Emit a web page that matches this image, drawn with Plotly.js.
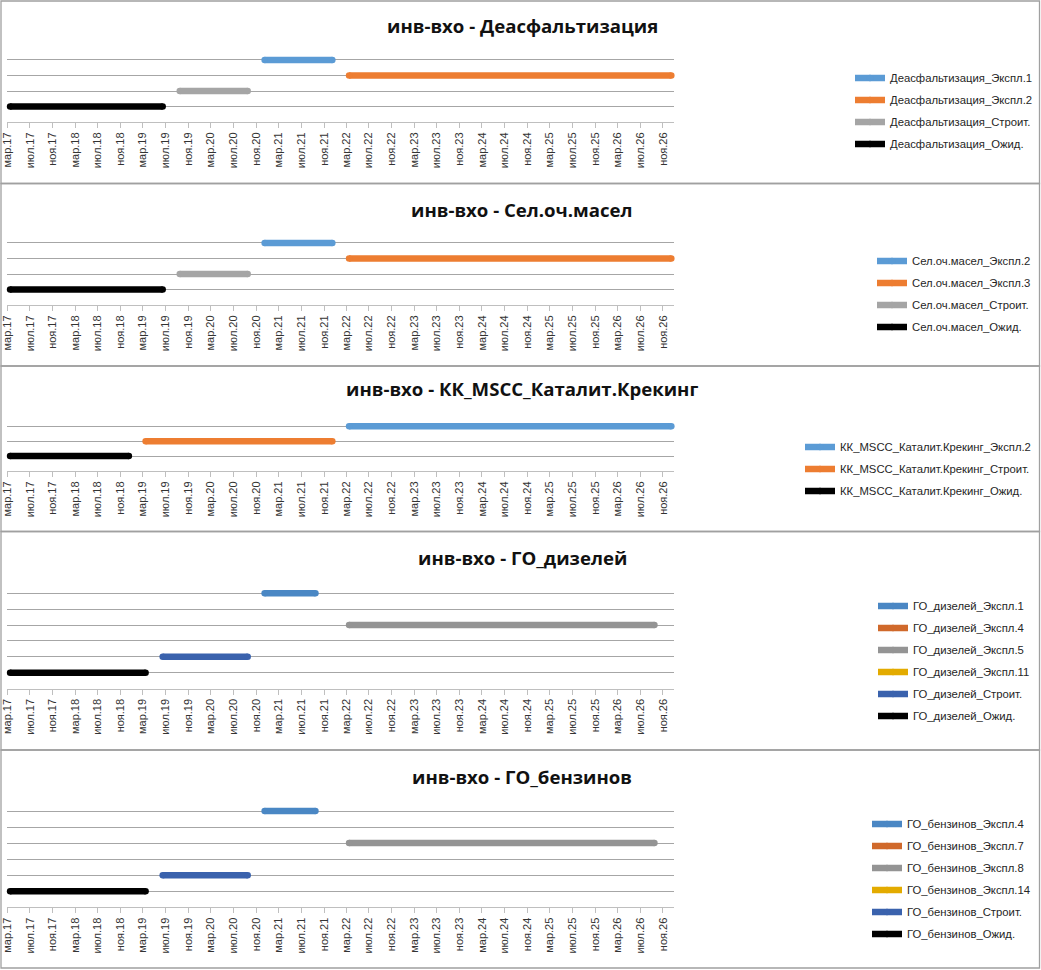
<!DOCTYPE html>
<html>
<head>
<meta charset="utf-8">
<script src="https://cdn.plot.ly/plotly-3.0.1.min.js"></script>
<style>html,body{margin:0;padding:0;background:#fff;}#chart{width:1041px;height:970px;}</style>
</head>
<body>
<div id="chart"></div>
<script>
// ---------- DATA ----------
const tickLabels = ["мар.17","июл.17","ноя.17","мар.18","июл.18","ноя.18","мар.19","июл.19","ноя.19",
  "мар.20","июл.20","ноя.20","мар.21","июл.21","ноя.21","мар.22","июл.22","ноя.22","мар.23","июл.23",
  "ноя.23","мар.24","июл.24","ноя.24","мар.25","июл.25","ноя.25","мар.26","июл.26","ноя.26"];

const panelTitles = ["инв-вхо - Деасфальтизация","инв-вхо - Сел.оч.масел",
  "инв-вхо - КК_MSCC_Каталит.Крекинг","инв-вхо - ГО_дизелей","инв-вхо - ГО_бензинов"];

// Panel 1
const p1Names  = ["Деасфальтизация_Экспл.1","Деасфальтизация_Экспл.2","Деасфальтизация_Строит.","Деасфальтизация_Ожид."];
const p1Levels = [4,3,2,1];
const p1Start  = ["2020-12","2022-03","2019-09","2017-03"];
const p1End    = ["2021-12","2026-12","2020-09","2019-06"];
// Panel 2
const p2Names  = ["Сел.оч.масел_Экспл.2","Сел.оч.масел_Экспл.3","Сел.оч.масел_Строит.","Сел.оч.масел_Ожид."];
const p2Levels = [4,3,2,1];
const p2Start  = ["2020-12","2022-03","2019-09","2017-03"];
const p2End    = ["2021-12","2026-12","2020-09","2019-06"];
// Panel 3
const p3Names  = ["КК_MSCC_Каталит.Крекинг_Экспл.2","КК_MSCC_Каталит.Крекинг_Строит.","КК_MSCC_Каталит.Крекинг_Ожид."];
const p3Levels = [3,2,1];
const p3Start  = ["2022-03","2019-03","2017-03"];
const p3End    = ["2026-12","2021-12","2018-12"];
// Panel 4
const p4Names  = ["ГО_дизелей_Экспл.1","ГО_дизелей_Экспл.4","ГО_дизелей_Экспл.5","ГО_дизелей_Экспл.11","ГО_дизелей_Строит.","ГО_дизелей_Ожид."];
const p4Levels = [6,5,4,3,2,1];
const p4Start  = ["2020-12",null,"2022-03",null,"2019-06","2017-03"];
const p4End    = ["2021-09",null,"2026-09",null,"2020-09","2019-03"];
// Panel 5
const p5Names  = ["ГО_бензинов_Экспл.4","ГО_бензинов_Экспл.7","ГО_бензинов_Экспл.8","ГО_бензинов_Экспл.14","ГО_бензинов_Строит.","ГО_бензинов_Ожид."];
const p5Levels = [6,5,4,3,2,1];
const p5Start  = ["2020-12",null,"2022-03",null,"2019-06","2017-03"];
const p5End    = ["2021-09",null,"2026-09",null,"2020-09","2019-03"];

// ---------- STYLE ----------
const colorsA = ["#5B9BD5","#ED7D31","#A5A5A5","#000000"];
const colorsB = ["#5B9BD5","#ED7D31","#000000"];
const colorsC = ["#4A87C4","#D0692B","#949494","#E3AB00","#3A62AD","#000000"];

const W = 1041, H = 970;
const px = v => v / W;
const py = v => 1 - v / H;
const PAD = 0.35; // extra room above the top level so thick lines are not clipped

const panels = [
  {names:p1Names, levels:p1Levels, start:p1Start, end:p1End, colors:colorsA, top:60,    bottom:122,   nmax:4, titleY:25.5, legX:850, legY:111, box:[1,183.5]},
  {names:p2Names, levels:p2Levels, start:p2Start, end:p2End, colors:colorsA, top:243,   bottom:305,   nmax:4, titleY:209.5,legX:872, legY:294, box:[183.5,366]},
  {names:p3Names, levels:p3Levels, start:p3Start, end:p3End, colors:colorsB, top:426.3, bottom:471,   nmax:3, titleY:388.5,legX:800, legY:469, box:[366,531.5]},
  {names:p4Names, levels:p4Levels, start:p4Start, end:p4End, colors:colorsC, top:593.3, bottom:688.5, nmax:6, titleY:557.5,legX:873, legY:661, box:[531.5,750]},
  {names:p5Names, levels:p5Levels, start:p5Start, end:p5End, colors:colorsC, top:811,   bottom:907.3, nmax:6, titleY:776,  legX:867, legY:879, box:[750,968]}
];

const monthNum = {"мар":"03","июл":"07","ноя":"11"};
const tickVals = tickLabels.map(t => "20" + t.split(".")[1] + "-" + monthNum[t.split(".")[0]] + "-01");
const mid = m => m === null ? null : m + "-16";

const data = [];
const layout = {
  width: W, height: H,
  margin: {l:0, r:0, t:0, b:0},
  paper_bgcolor: "#fff", plot_bgcolor: "rgba(0,0,0,0)",
  showlegend: true,
  annotations: [], shapes: []
};

panels.forEach((p, i) => {
  const n = i + 1;
  const xs = n === 1 ? "x" : "x" + n;
  const ys = n === 1 ? "y" : "y" + n;
  const legName = n === 1 ? "legend" : "legend" + n;
  const step = (p.bottom - p.top) / p.nmax;
  p.names.forEach((name, k) => {
    data.push({
      type: "scatter", mode: "lines+markers",
      name: name,
      x: [mid(p.start[k]), mid(p.end[k])],
      y: p.start[k] === null ? [null, null] : [p.levels[k], p.levels[k]],
      xaxis: xs, yaxis: ys,
      legend: legName,
      legendgroup: "g" + n + "_" + k,
      line: {color: p.colors[k], width: 6.5},
      marker: {color: p.colors[k], size: 6.5, line: {width: 0}},
      cliponaxis: false,
      hoverinfo: "skip"
    });
  });
  layout["xaxis" + (n === 1 ? "" : n)] = {
    domain: [px(7.3), px(674.3)],
    anchor: ys,
    type: "date",
    range: ["2017-03-01", "2027-01-01"],
    tickmode: "array", tickvals: tickVals, ticktext: tickLabels,
    tickangle: -90,
    ticks: "outside", ticklen: 5, tickcolor: "#bfbfbf", tickwidth: 1,
    showline: true, linecolor: "#bfbfbf", linewidth: 1,
    showgrid: false, zeroline: false,
    tickfont: {family: "Liberation Sans, Arial, sans-serif", size: 11, color: "#333"}
  };
  layout["yaxis" + (n === 1 ? "" : n)] = {
    domain: [py(p.bottom), py(p.top - PAD * step)],
    anchor: xs,
    range: [0, p.nmax + PAD],
    tickmode: "linear", tick0: 0, dtick: 1,
    showgrid: true, gridcolor: "#a6a6a6", gridwidth: 1,
    showticklabels: false, ticks: "", zeroline: false, showline: false
  };
  layout[legName] = {
    x: px(p.legX), xanchor: "left",
    y: py(p.legY), yanchor: "middle",
    traceorder: "grouped", tracegroupgap: 3,
    bgcolor: "rgba(0,0,0,0)", borderwidth: 0,
    font: {family: "Liberation Sans, Arial, sans-serif", size: 11.3, color: "#262626"}
  };
  layout.annotations.push({
    xref: "paper", yref: "paper", x: px(522), y: py(p.titleY),
    xanchor: "center", yanchor: "middle", showarrow: false,
    text: "<b>" + panelTitles[i] + "</b>",
    font: {family: "Open Sans, sans-serif", size: 18.6, color: "#111"}
  });
  layout.shapes.push({
    type: "rect", xref: "paper", yref: "paper",
    x0: px(1), x1: px(1039.5), y0: py(p.box[1]), y1: py(p.box[0]),
    line: {color: "#a0a0a0", width: 1.3}, fillcolor: "rgba(0,0,0,0)", layer: "below"
  });
});

Plotly.newPlot("chart", data, layout, {staticPlot: true, displayModeBar: false});
</script>
</body>
</html>
